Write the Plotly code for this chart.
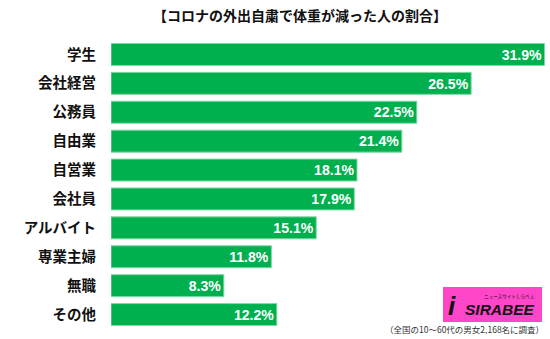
import plotly.graph_objects as go

# Survey results: share of people who lost weight while staying home, by occupation
categories = ["学生", "会社経営", "公務員", "自由業", "自営業", "会社員", "アルバイト", "専業主婦", "無職", "その他"]
values = [31.9, 26.5, 22.5, 21.4, 18.1, 17.9, 15.1, 11.8, 8.3, 12.2]
value_labels = [f"{v:.1f}%" for v in values]

title_text = "【コロナの外出自粛で体重が減った人の割合】"
note_text = "（全国の10〜60代の男女2,168名に調査）"

JP = "Noto Sans CJK JP"
GREEN = "#00B04F"

fig = go.Figure(
    go.Bar(
        x=values,
        y=categories,
        orientation="h",
        marker=dict(color=GREEN, line=dict(color="#7FD8A5", width=1)),
        text=value_labels,
        textposition="inside",
        insidetextanchor="end",
        textfont=dict(family="Liberation Sans", size=15, color="white", weight="bold"),
        cliponaxis=False,
    )
)

fig.update_layout(
    width=550,
    height=339,
    margin=dict(l=111, r=0, t=40, b=10),
    paper_bgcolor="white",
    plot_bgcolor="white",
    showlegend=False,
    bargap=0.24,
    xaxis=dict(range=[0, 32.3], visible=False, fixedrange=True),
    yaxis=dict(
        autorange="reversed",
        showgrid=False,
        showline=False,
        ticks="",
        tickfont=dict(family=JP, size=14.5, color="#111111", weight="bold"),
        ticklabelstandoff=14,
    ),
    font=dict(family=JP),
)

# Title
fig.add_annotation(
    text=title_text, xref="paper", yref="paper", x=(300 - 111) / 439, y=1,
    yshift=25, xanchor="center", yanchor="middle", showarrow=False,
    font=dict(family=JP, size=14, color="#111111", weight="bold"),
)

# Logo badge
fig.add_shape(
    type="rect", xref="paper", yref="paper",
    x0=(443 - 111) / 439, x1=(542 - 111) / 439,
    y0=(329 - 322) / 289, y1=(329 - 287) / 289,
    fillcolor="#FF45C8", line=dict(width=0), layer="above",
)
fig.add_annotation(
    text="<b><i>SIRABEE</i></b>", xref="paper", yref="paper",
    x=(463 - 111) / 439, y=(329 - 309) / 289, xanchor="left", yanchor="middle",
    showarrow=False, font=dict(family="Liberation Sans", size=15.5, color="#111111"),
)
fig.add_annotation(
    text="<b><i>i</i></b>", xref="paper", yref="paper",
    x=(452 - 111) / 439, y=(329 - 306) / 289, xanchor="center", yanchor="middle",
    showarrow=False, font=dict(family="Liberation Sans", size=26, color="#111111"),
)
fig.add_annotation(
    text="ニュースサイトしらべぇ", xref="paper", yref="paper",
    x=(536 - 111) / 439, y=(329 - 296) / 289, xanchor="right", yanchor="middle",
    showarrow=False, font=dict(family=JP, size=4.6, color="#111111"),
)

# Footnote
fig.add_annotation(
    text=note_text, xref="paper", yref="paper",
    x=(546 - 111) / 439, y=(329 - 329) / 289, xanchor="right", yanchor="middle",
    showarrow=False, font=dict(family=JP, size=8.5, color="#333333"),
)

fig.write_html("out.html")
